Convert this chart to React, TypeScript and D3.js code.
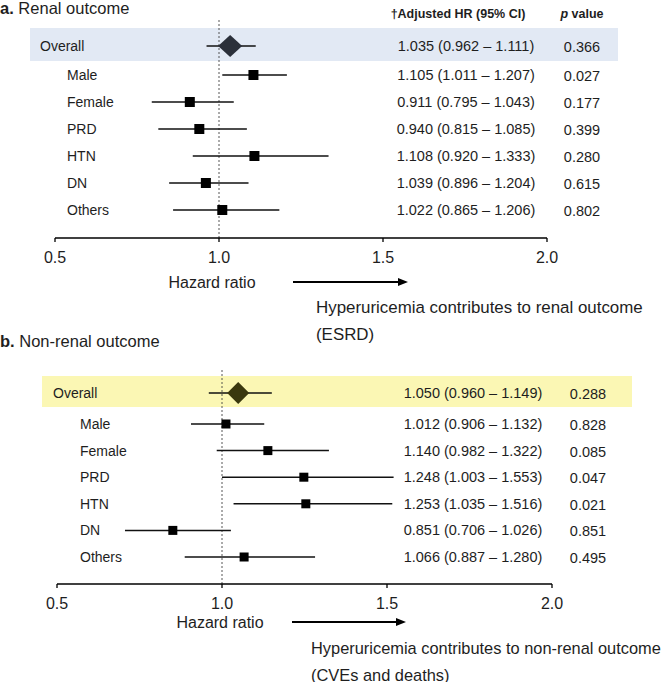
import React from "react";
import * as d3 from "d3";

// ---------- data ----------
const subgroups = ["Overall", "Male", "Female", "PRD", "HTN", "DN", "Others"];

// Panel a: renal outcome (plotted estimates)
const renalPoint = [1.034, 1.105, 0.911, 0.94, 1.108, 0.96, 1.01];
const renalLow = [0.962, 1.01, 0.795, 0.815, 0.92, 0.848, 0.86];
const renalHigh = [1.112, 1.207, 1.045, 1.085, 1.334, 1.09, 1.184];
const renalHRText = [
  "1.035 (0.962 – 1.111)",
  "1.105 (1.011 – 1.207)",
  "0.911 (0.795 – 1.043)",
  "0.940 (0.815 – 1.085)",
  "1.108 (0.920 – 1.333)",
  "1.039 (0.896 – 1.204)",
  "1.022 (0.865 – 1.206)",
];
const renalP = ["0.366", "0.027", "0.177", "0.399", "0.280", "0.615", "0.802"];

// Panel b: non-renal outcome
const nonRenalPoint = [1.049, 1.012, 1.139, 1.248, 1.254, 0.851, 1.067];
const nonRenalLow = [0.96, 0.906, 0.984, 1.0, 1.035, 0.706, 0.887];
const nonRenalHigh = [1.151, 1.128, 1.324, 1.52, 1.516, 1.027, 1.282];
const nonRenalHRText = [
  "1.050 (0.960 – 1.149)",
  "1.012 (0.906 – 1.132)",
  "1.140 (0.982 – 1.322)",
  "1.248 (1.003 – 1.553)",
  "1.253 (1.035 – 1.516)",
  "0.851 (0.706 – 1.026)",
  "1.066 (0.887 – 1.280)",
];
const nonRenalP = ["0.288", "0.828", "0.085", "0.047", "0.021", "0.851", "0.495"];

const tickValues = [0.5, 1.0, 1.5, 2.0];
const tickLabels = ["0.5", "1.0", "1.5", "2.0"];

const FONT = "'Liberation Sans', Arial, Helvetica, sans-serif";
const TXT = "#1e1e1e";

type PanelProps = {
  letter: string;
  title: string;
  titleY: number;
  point: number[];
  low: number[];
  high: number[];
  hrText: string[];
  pText: string[];
  xRange: [number, number];
  overallY: number;
  subRange: [number, number];
  band: { x0: number; x1: number; y0: number; y1: number; fill: string };
  diamondFill: string;
  refTop: number;
  axisY: number;
  overallLabelX: number;
  subLabelX: number;
  hrX: number;
  pX: number;
  header: boolean;
  hazardY: number;
  hazardX: number;
  arrow: [number, number];
  note1: string;
  note2: string;
  noteX: number;
  noteY: number;
  noteSize: number;
  squareSize: number;
  diamondW: number;
  diamondH: number;
};

function Panel(p: PanelProps) {
  const x = d3.scaleLinear().domain([0.5, 2.0]).range(p.xRange);
  const ySub = d3.scalePoint<string>().domain(subgroups.slice(1)).range(p.subRange);
  const yOf = (i: number) => (i === 0 ? p.overallY : (ySub(subgroups[i]) as number));

  const diamond = (cx: number, cy: number) => {
    const path = d3.path();
    path.moveTo(cx - p.diamondW / 2, cy);
    path.lineTo(cx, cy - p.diamondH / 2);
    path.lineTo(cx + p.diamondW / 2, cy);
    path.lineTo(cx, cy + p.diamondH / 2);
    path.closePath();
    return path.toString();
  };

  return (
    <g>
      <text x={0} y={p.titleY} fontSize={16.5} fill={TXT} fontFamily={FONT}>
        <tspan fontWeight="bold">{p.letter}</tspan>
        <tspan> {p.title}</tspan>
      </text>
      {p.header && (
        <g fontFamily={FONT} fontWeight="bold" fontSize={12.5} fill={TXT}>
          <text x={458} y={18} textAnchor="middle">†Adjusted HR (95% CI)</text>
          <text x={582} y={18} textAnchor="middle">
            <tspan fontStyle="italic">p</tspan> value
          </text>
        </g>
      )}
      <rect
        x={p.band.x0}
        y={p.band.y0}
        width={p.band.x1 - p.band.x0}
        height={p.band.y1 - p.band.y0}
        fill={p.band.fill}
      />
      {/* reference line at HR = 1 */}
      <line
        x1={x(1)}
        x2={x(1)}
        y1={p.refTop}
        y2={p.axisY}
        stroke="#444"
        strokeWidth={0.9}
        strokeDasharray="2,2"
      />
      {subgroups.map((g, i) => {
        const cy = yOf(i);
        return (
          <g key={g}>
            <text
              x={i === 0 ? p.overallLabelX : p.subLabelX}
              y={cy + 5}
              fontSize={14}
              fontFamily={FONT}
              fill={TXT}
            >
              {g}
            </text>
            <line x1={x(p.low[i])} x2={x(p.high[i])} y1={cy} y2={cy} stroke="#111" strokeWidth={1.5} />
            {i === 0 ? (
              <path d={diamond(x(p.point[i]), cy)} fill={p.diamondFill} />
            ) : (
              <rect
                x={x(p.point[i]) - p.squareSize / 2}
                y={cy - p.squareSize / 2}
                width={p.squareSize}
                height={p.squareSize}
                fill="#000"
              />
            )}
            <text x={p.hrX} y={cy + 5} fontSize={14.5} fontFamily={FONT} fill={TXT} textAnchor="middle">
              {p.hrText[i]}
            </text>
            <text x={p.pX} y={cy + 6} fontSize={14.5} fontFamily={FONT} fill={TXT} textAnchor="middle">
              {p.pText[i]}
            </text>
          </g>
        );
      })}
      {/* axis */}
      <line x1={x(0.5)} x2={x(2.0)} y1={p.axisY} y2={p.axisY} stroke="#000" strokeWidth={1.3} />
      {tickValues.map((t, i) => (
        <g key={t}>
          <line x1={x(t)} x2={x(t)} y1={p.axisY} y2={p.axisY + 4} stroke="#000" strokeWidth={1.3} />
          <text
            x={x(t)}
            y={p.axisY + 25}
            fontSize={16}
            fontFamily={FONT}
            fill={TXT}
            textAnchor="middle"
          >
            {tickLabels[i]}
          </text>
        </g>
      ))}
      <text x={p.hazardX} y={p.hazardY} fontSize={16} fontFamily={FONT} fill={TXT} textAnchor="middle">
        Hazard ratio
      </text>
      <line
        x1={p.arrow[0]}
        x2={p.arrow[1] - 8}
        y1={p.hazardY - 6}
        y2={p.hazardY - 6}
        stroke="#000"
        strokeWidth={2.2}
      />
      <path
        d={`M${p.arrow[1]},${p.hazardY - 6} L${p.arrow[1] - 10},${p.hazardY - 10} L${p.arrow[1] - 10},${p.hazardY - 2} Z`}
        fill="#000"
      />
      <text x={p.noteX} y={p.noteY} fontSize={p.noteSize} fontFamily={FONT} fill={TXT}>
        {p.note1}
      </text>
      <text x={p.noteX} y={p.noteY + 26.5} fontSize={p.noteSize} fontFamily={FONT} fill={TXT}>
        {p.note2}
      </text>
    </g>
  );
}

export default function App() {
  return (
    <svg
      width={667}
      height={682}
      viewBox="0 0 667 682"
      style={{ position: "absolute", left: 0, top: 0, background: "#fff" }}
    >
      <rect x={0} y={0} width={667} height={682} fill="#fff" />
      <Panel
        letter="a."
        title="Renal outcome"
        titleY={14}
        point={renalPoint}
        low={renalLow}
        high={renalHigh}
        hrText={renalHRText}
        pText={renalP}
        xRange={[55, 547]}
        overallY={46}
        subRange={[75, 210]}
        band={{ x0: 30, x1: 618, y0: 28, y1: 61, fill: "#e2e9f4" }}
        diamondFill="#2b303a"
        refTop={20}
        axisY={238}
        overallLabelX={40}
        subLabelX={67}
        hrX={466}
        pX={582}
        header={true}
        hazardX={212}
        hazardY={288}
        arrow={[293, 408]}
        note1="Hyperuricemia contributes to renal outcome"
        note2="(ESRD)"
        noteX={316}
        noteY={313}
        noteSize={16.9}
        squareSize={10}
        diamondW={24}
        diamondH={22}
      />
      <Panel
        letter="b."
        title="Non-renal outcome"
        titleY={347}
        point={nonRenalPoint}
        low={nonRenalLow}
        high={nonRenalHigh}
        hrText={nonRenalHRText}
        pText={nonRenalP}
        xRange={[57, 552]}
        overallY={393}
        subRange={[424, 557]}
        band={{ x0: 42, x1: 632, y0: 376, y1: 407, fill: "#fbf7b4" }}
        diamondFill="#3a380e"
        refTop={370}
        axisY={584}
        overallLabelX={53}
        subLabelX={80}
        hrX={473}
        pX={588}
        header={false}
        hazardX={220}
        hazardY={628}
        arrow={[292, 406]}
        note1="Hyperuricemia contributes to non-renal outcome"
        note2="(CVEs and deaths)"
        noteX={311}
        noteY={654}
        noteSize={16.4}
        squareSize={9}
        diamondW={22}
        diamondH={22}
      />
    </svg>
  );
}
